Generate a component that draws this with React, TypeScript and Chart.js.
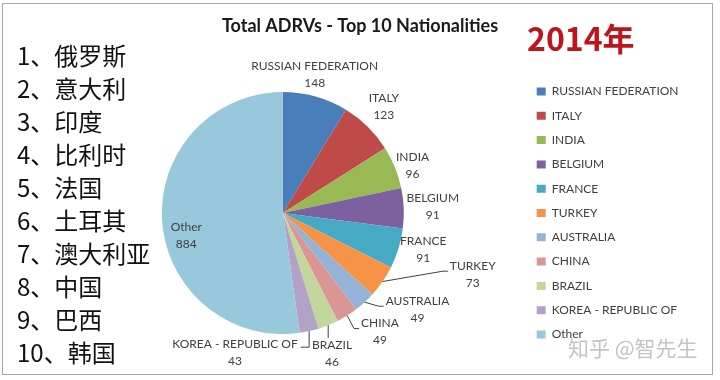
import React, { useEffect, useRef } from "react";
import { Chart, registerables } from "chart.js";

Chart.register(...registerables);

// ---- data ----
const categories = [
  "RUSSIAN FEDERATION",
  "ITALY",
  "INDIA",
  "BELGIUM",
  "FRANCE",
  "TURKEY",
  "AUSTRALIA",
  "CHINA",
  "BRAZIL",
  "KOREA - REPUBLIC OF",
  "Other",
];
const values = [148, 123, 96, 91, 91, 73, 49, 49, 46, 43, 884];
const sliceColors = [
  "#4A7EBB",
  "#BE4B48",
  "#98B954",
  "#7D60A0",
  "#46AAC5",
  "#F69346",
  "#95B3D7",
  "#D99694",
  "#C3D69B",
  "#B2A2C7",
  "#98C8DC",
];
const chartTitle = "Total ADRVs - Top 10 Nationalities";
const yearLabel = "2014年";
const rankList = [
  "1、俄罗斯",
  "2、意大利",
  "3、印度",
  "4、比利时",
  "5、法国",
  "6、土耳其",
  "7、澳大利亚",
  "8、中国",
  "9、巴西",
  "10、韩国",
];
const watermark = "知乎 @智先生";

// ---- label placement (style): angle clockwise from 12 o'clock, distance in radii ----
type Leader = null | "left" | "right" | "top";
const labelPlacement: { angle: number; dist: number; leader: Leader }[] = [
  { angle: 13, dist: 1.17, leader: null },
  { angle: 43.6, dist: 1.21, leader: null },
  { angle: 70.1, dist: 1.14, leader: null },
  { angle: 87.7, dist: 1.24, leader: null },
  { angle: 104.8, dist: 1.2, leader: null },
  { angle: 108, dist: 1.65, leader: "left" },
  { angle: 125.7, dist: 1.37, leader: "left" },
  { angle: 140.8, dist: 1.27, leader: "left" },
  { angle: 160.7, dist: 1.23, leader: "top" },
  { angle: 198.9, dist: 1.22, leader: "right" },
  { angle: 256.7, dist: 0.82, leader: null },
];

const FONT = "Lato, 'Open Sans', sans-serif";

const sliceLabels = {
  id: "sliceLabels",
  afterDatasetsDraw(chart: any) {
    const ctx = chart.ctx as CanvasRenderingContext2D;
    const meta = chart.getDatasetMeta(0);
    ctx.save();
    ctx.font = `12px ${FONT}`;
    ctx.fillStyle = "#404040";
    ctx.strokeStyle = "#404040";
    ctx.lineWidth = 1;
    ctx.textAlign = "center";
    ctx.textBaseline = "middle";
    const lh = 17;
    meta.data.forEach((arc: any, i: number) => {
      const { x, y, outerRadius, startAngle, endAngle } = arc.getProps(
        ["x", "y", "outerRadius", "startAngle", "endAngle"],
        true
      );
      const p = labelPlacement[i];
      const a = -Math.PI / 2 + (p.angle * Math.PI) / 180;
      const cx = x + Math.cos(a) * outerRadius * p.dist;
      const cy = y + Math.sin(a) * outerRadius * p.dist;
      const l1 = categories[i];
      const l2 = String(values[i]);
      const y1 = cy - lh / 2;
      const y2 = cy + lh / 2;
      ctx.fillText(l1, cx, y1);
      ctx.fillText(l2, cx, y2);
      if (p.leader) {
        const mid = (startAngle + endAngle) / 2;
        const ex = x + Math.cos(mid) * outerRadius;
        const ey = y + Math.sin(mid) * outerRadius;
        const w = ctx.measureText(l1).width;
        let pts: number[][] = [];
        if (p.leader === "left") {
          const lx = cx - w / 2 - 2;
          const ly = y1 + 5;
          pts = [
            [ex, ey],
            [lx - 5, ly],
            [lx, ly],
          ];
        } else if (p.leader === "right") {
          const rx = cx + w / 2 + 3;
          const ly = y1 + 3;
          pts = [
            [ex, ey],
            [ex, ly],
            [rx, ly],
          ];
        } else {
          pts = [
            [ex, ey],
            [ex, y1 - 7],
          ];
        }
        ctx.beginPath();
        ctx.moveTo(pts[0][0], pts[0][1]);
        for (let k = 1; k < pts.length; k++) ctx.lineTo(pts[k][0], pts[k][1]);
        ctx.stroke();
      }
    });
    ctx.restore();
  },
};

export default function App() {
  const canvasRef = useRef<HTMLCanvasElement | null>(null);

  useEffect(() => {
    if (!canvasRef.current) return;
    const chart = new Chart(canvasRef.current, {
      type: "pie",
      data: {
        labels: categories,
        datasets: [
          {
            data: values,
            backgroundColor: sliceColors,
            borderWidth: 0,
            radius: 121,
          },
        ],
      },
      options: {
        responsive: false,
        animation: false,
        layout: { padding: { left: 41.3, right: 41.3, top: 0, bottom: 0 } },
        plugins: {
          title: {
            display: true,
            text: chartTitle,
            color: "#1a1a1a",
            font: { family: FONT, size: 18, weight: "bold" },
            padding: { top: 15.2, bottom: 9.2 },
          },
          legend: {
            position: "right",
            fullSize: false,
            maxWidth: 154.3,
            labels: {
              boxWidth: 9,
              boxHeight: 8,
              padding: 12.3,
              color: "#404040",
              font: { family: FONT, size: 12 },
              generateLabels: (c: any) =>
                (Chart as any).overrides.pie.plugins.legend.labels
                  .generateLabels(c)
                  .map((l: any) => ({ ...l, lineWidth: 0 })),
            },
          },
          tooltip: { enabled: false },
        },
      },
      plugins: [sliceLabels],
    });
    return () => chart.destroy();
  }, []);

  return (
    <div
      style={{
        position: "fixed",
        left: 0,
        top: 0,
        width: 720,
        height: 380,
        background: "#ffffff",
        overflow: "hidden",
      }}
    >
      <div
        style={{
          position: "absolute",
          left: 2,
          top: 3,
          width: 711,
          height: 372,
          border: "1.5px solid #a8a8a8",
          boxSizing: "border-box",
        }}
      />
      <canvas
        ref={canvasRef}
        width={720}
        height={380}
        style={{ position: "absolute", left: 0, top: 0, width: 720, height: 380 }}
      />
      <div
        style={{
          position: "absolute",
          left: 17,
          top: 38,
          fontFamily: "'Noto Sans CJK SC', sans-serif",
          fontSize: 24,
          lineHeight: "33px",
          color: "#111",
          whiteSpace: "pre",
        }}
      >
        {rankList.map((t) => (
          <div key={t}>{t}</div>
        ))}
      </div>
      <div
        style={{
          position: "absolute",
          left: 527,
          top: 17,
          fontFamily: "'Noto Sans CJK SC', sans-serif",
          fontWeight: 700,
          fontSize: 32,
          lineHeight: "40px",
          color: "#C0141C",
        }}
      >
        {yearLabel}
      </div>
      <div
        style={{
          position: "absolute",
          left: 568,
          top: 334,
          fontFamily: "'Noto Sans CJK SC', sans-serif",
          fontSize: 21,
          lineHeight: "26px",
          color: "#c4c4c4",
          whiteSpace: "pre",
        }}
      >
        {watermark}
      </div>
    </div>
  );
}
